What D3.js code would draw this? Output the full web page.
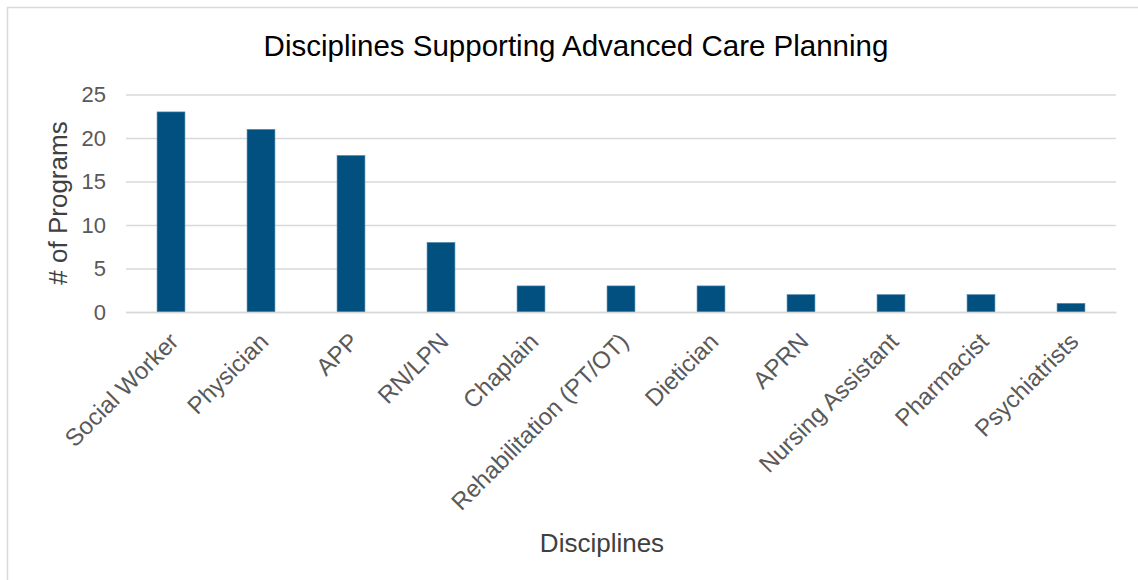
<!DOCTYPE html>
<html>
<head>
<meta charset="utf-8">
<script src="https://cdn.jsdelivr.net/npm/d3@7"></script>
<style>
  body { margin: 0; background: #fff; }
  svg { display: block; font-family: "Liberation Sans", Arial, sans-serif; }
</style>
</head>
<body>
<svg id="chart"></svg>
<script>
const disciplines = ["Social Worker", "Physician", "APP", "RN/LPN", "Chaplain",
  "Rehabilitation (PT/OT)", "Dietician", "APRN", "Nursing Assistant", "Pharmacist", "Psychiatrists"];
const programs = [23, 21, 18, 8, 3, 3, 3, 2, 2, 2, 1];
const yTicks = [0, 5, 10, 15, 20, 25];

const W = 1138, H = 580;
const margin = { top: 94.5, right: 22, bottom: 268, left: 126 };
const width = W - margin.left - margin.right;
const height = H - margin.top - margin.bottom;

const svg = d3.select("#chart").attr("width", W).attr("height", H);

// outer chart frame
svg.append("rect")
  .attr("x", 7.5).attr("y", 7.5)
  .attr("width", W).attr("height", H)
  .attr("fill", "#fff")
  .attr("stroke", "#d9d9d9")
  .attr("stroke-width", 1.5);

svg.append("text")
  .attr("x", 576).attr("y", 56)
  .attr("text-anchor", "middle")
  .attr("font-size", 29.5)
  .attr("fill", "#000")
  .text("Disciplines Supporting Advanced Care Planning");

const x = d3.scaleBand().domain(disciplines).range([0, width]).paddingInner(0.69).paddingOuter(0.345);
const y = d3.scaleLinear().domain([0, 25]).range([height, 0]);

const g = svg.append("g").attr("transform", `translate(${margin.left},${margin.top})`);

// gridlines
const yAxis = g.append("g")
  .call(d3.axisLeft(y).tickValues(yTicks).tickSize(-width).tickPadding(20));
yAxis.select(".domain").remove();
yAxis.selectAll(".tick line").attr("stroke", "#d9d9d9").attr("stroke-width", 1.5);
yAxis.selectAll(".tick text")
  .attr("font-size", 22)
  .attr("fill", "#595959")
  .attr("font-family", "Liberation Sans, Arial, sans-serif");

g.selectAll(".bar")
  .data(programs)
  .join("rect")
  .attr("class", "bar")
  .attr("x", (d, i) => x(disciplines[i]))
  .attr("y", d => y(d))
  .attr("width", x.bandwidth())
  .attr("height", d => height - y(d))
  .attr("fill", "#01507f")
  .attr("stroke", "#5b8fb3")
  .attr("stroke-width", 0.6);

// x axis
const xAxis = g.append("g")
  .attr("transform", `translate(0,${height})`)
  .call(d3.axisBottom(x).tickSize(0).tickPadding(0));
xAxis.select(".domain").attr("stroke", "#d9d9d9").attr("stroke-width", 1.5);
xAxis.selectAll(".tick text")
  .attr("font-size", 24)
  .attr("fill", "#595959")
  .attr("font-family", "Liberation Sans, Arial, sans-serif")
  .attr("text-anchor", "end")
  .attr("dy", 0)
  .attr("transform", "translate(9,31) rotate(-45)");

svg.append("text")
  .attr("transform", "translate(67,203) rotate(-90)")
  .attr("text-anchor", "middle")
  .attr("font-size", 26)
  .attr("fill", "#404040")
  .text("# of Programs");

svg.append("text")
  .attr("x", 602).attr("y", 552)
  .attr("text-anchor", "middle")
  .attr("font-size", 26)
  .attr("fill", "#404040")
  .text("Disciplines");
</script>
</body>
</html>
